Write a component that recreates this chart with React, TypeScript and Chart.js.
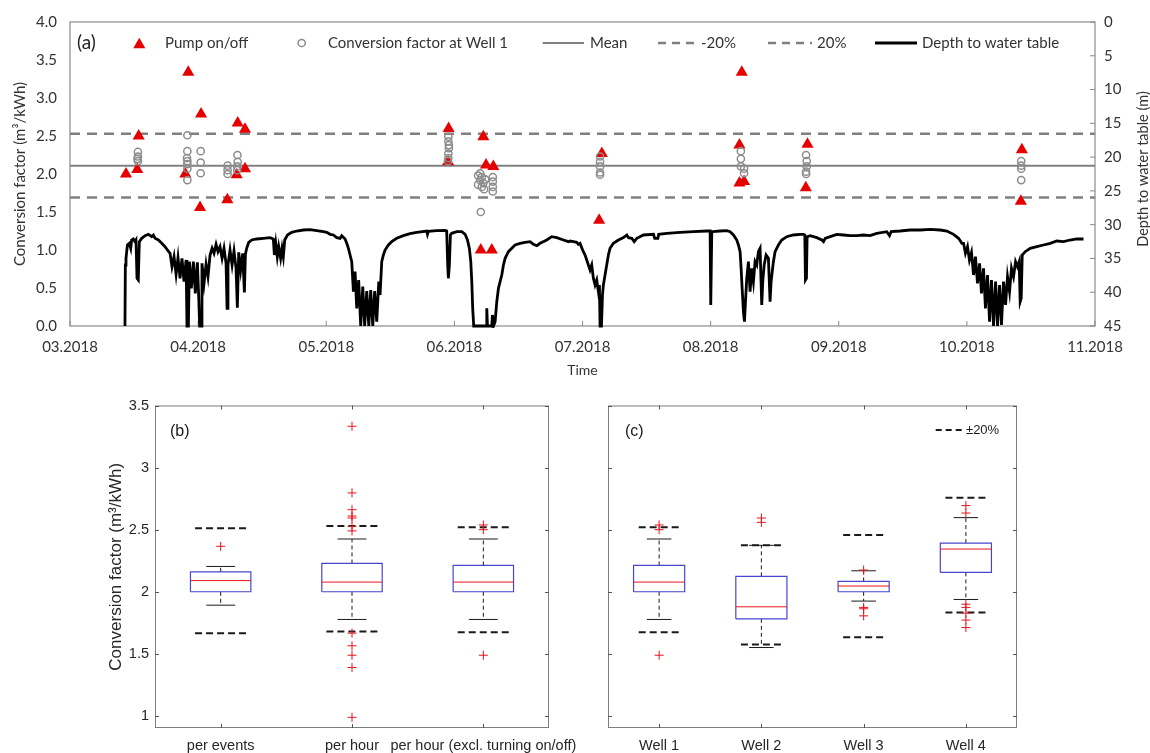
import React, { useEffect, useRef } from 'react';
import { Chart, registerables } from 'chart.js';

Chart.register(...registerables);

// ---------------- (a) time series ----------------
const monthLabels = ['03.2018', '04.2018', '05.2018', '06.2018', '07.2018', '08.2018', '09.2018', '10.2018', '11.2018'];
const factorTicks = [0, 0.5, 1, 1.5, 2, 2.5, 3, 3.5, 4];
const depthTicks = [0, 5, 10, 15, 20, 25, 30, 35, 40, 45];
const meanFactor = 2.11;
const lowerBand = 1.69;
const upperBand = 2.53;
const legendLabels = ['Pump on/off', 'Conversion factor at Well 1', 'Mean', '-20%', '20%', 'Depth to water table'];
const depthAxisTitle = 'Depth to water table (m)';

// [month index since 03.2018, conversion factor]
const pumpOnOff: [number, number][] = [
  [0.437, 2.0], [0.525, 2.06], [0.536, 2.5],
  [0.9, 2.0], [0.923, 3.34], [1.015, 1.56], [1.023, 2.79],
  [1.228, 1.66], [1.301, 1.99], [1.309, 2.67], [1.366, 2.59], [1.366, 2.07],
  [2.951, 2.16], [2.955, 2.6],
  [3.206, 1.0], [3.226, 2.49], [3.247, 2.12], [3.292, 1.0], [3.304, 2.1],
  [4.13, 1.39], [4.151, 2.27],
  [5.225, 2.38], [5.225, 1.88], [5.243, 3.34], [5.261, 1.9],
  [5.743, 1.82], [5.756, 2.39],
  [7.421, 1.64], [7.429, 2.32],
];

const wellOneFactor: [number, number][] = [
  [0.53, 2.29], [0.53, 2.23], [0.527, 2.2], [0.53, 2.17],
  [0.916, 2.51], [0.916, 2.3], [0.913, 2.21], [0.916, 2.17], [0.916, 2.13], [0.916, 2.07], [0.916, 1.92],
  [1.02, 2.3], [1.02, 2.15], [1.02, 2.01],
  [1.23, 2.11], [1.23, 2.05], [1.23, 2.0],
  [1.307, 2.25], [1.309, 2.16], [1.305, 2.1], [1.305, 2.05],
  [2.953, 2.49], [2.953, 2.43], [2.957, 2.38], [2.957, 2.34], [2.953, 2.27], [2.953, 2.21], [2.95, 2.17],
  [3.185, 1.98], [3.201, 2.01], [3.214, 1.96], [3.201, 1.92], [3.24, 1.93], [3.226, 1.88], [3.185, 1.86], [3.214, 1.83], [3.232, 1.8], [3.206, 1.5],
  [3.3, 1.96], [3.3, 1.9], [3.3, 1.83], [3.3, 1.77],
  [4.137, 2.23], [4.137, 2.16], [4.137, 2.1], [4.137, 2.02], [4.137, 1.99],
  [5.236, 2.3], [5.236, 2.2], [5.236, 2.1], [5.261, 2.07], [5.261, 2.01],
  [5.745, 2.25], [5.75, 2.17], [5.75, 2.1], [5.745, 2.03], [5.745, 2.0],
  [7.424, 2.17], [7.424, 2.11], [7.424, 2.07], [7.424, 1.92],
];

// [month index since 03.2018, depth to water table (m)]
const depthToWaterTable: [number, number][] = [
  [0.429, 45.0], [0.432, 35.97], [0.437, 34.98], [0.448, 33.01], [0.463, 32.76], [0.474, 33.5], [0.481, 32.27], [0.494, 32.12],
  [0.507, 32.52], [0.515, 32.27], [0.523, 37.94], [0.533, 38.19], [0.541, 32.52], [0.56, 32.02], [0.586, 31.63], [0.612, 31.43],
  [0.638, 31.78], [0.651, 31.53], [0.664, 32.02], [0.69, 32.27], [0.716, 32.76], [0.742, 33.26], [0.76, 33.75], [0.781, 34.24],
  [0.796, 36.22], [0.812, 34.74], [0.828, 37.35], [0.843, 34.89], [0.859, 37.94], [0.874, 34.98], [0.89, 38.44], [0.906, 35.23],
  [0.913, 45], [0.924, 45], [0.932, 35.48], [0.947, 39.42], [0.963, 35.48], [0.978, 40.17], [0.994, 35.58], [1.004, 40.41],
  [1.012, 45], [1.023, 45], [1.03, 35.72], [1.046, 38.68], [1.062, 35.87], [1.077, 37.7], [1.093, 34.49], [1.109, 33.5],
  [1.124, 34.24], [1.14, 32.91], [1.155, 34.0], [1.171, 33.26], [1.187, 34.98], [1.202, 33.5], [1.218, 35.72], [1.226, 42.39],
  [1.233, 35.97], [1.249, 33.75], [1.265, 35.97], [1.28, 33.9], [1.296, 36.46], [1.306, 42.29], [1.317, 34.1], [1.332, 36.71],
  [1.348, 34.24], [1.361, 40.02], [1.369, 34.39], [1.379, 33.5], [1.395, 32.62], [1.418, 32.27], [1.457, 32.12], [1.509, 32.02],
  [1.561, 31.92], [1.587, 32.12], [1.595, 34.49], [1.606, 32.76], [1.618, 34.74], [1.629, 33.26], [1.644, 34.98], [1.655, 33.5],
  [1.665, 34.74], [1.676, 32.27], [1.697, 31.53], [1.73, 31.14], [1.769, 30.94], [1.821, 30.79], [1.874, 30.74], [1.926, 30.89],
  [1.977, 31.04], [2.004, 31.14], [2.03, 31.43], [2.056, 31.53], [2.082, 31.92], [2.108, 32.02],
  [2.121, 31.63], [2.147, 32.12], [2.16, 32.76], [2.173, 33.5], [2.186, 34.49], [2.199, 35.48], [2.212, 39.92], [2.225, 36.96],
  [2.238, 42.39], [2.253, 38.19], [2.269, 45], [2.285, 39.18], [2.3, 45], [2.316, 39.82], [2.332, 45], [2.347, 39.67],
  [2.363, 45], [2.378, 39.82], [2.394, 44.36], [2.41, 38.44], [2.42, 40.41], [2.433, 35.48], [2.446, 34.49], [2.459, 33.75],
  [2.485, 33.01], [2.511, 32.52], [2.55, 32.02], [2.602, 31.63], [2.654, 31.33], [2.706, 31.14], [2.784, 30.94], [2.79, 31.43],
  [2.797, 30.99], [2.862, 30.89], [2.927, 30.84], [2.94, 30.94], [2.948, 35.97], [2.953, 37.94], [2.961, 35.97], [2.969, 31.53],
  [2.979, 31.28], [3.019, 31.04], [3.058, 31.04], [3.084, 31.43], [3.102, 32.27], [3.117, 33.5], [3.128, 35.48], [3.136, 38.44],
  [3.143, 42.39], [3.151, 45], [3.247, 45], [3.253, 42.39], [3.258, 45], [3.292, 45], [3.297, 43.37], [3.305, 45],
  [3.318, 44.36], [3.331, 41.4], [3.344, 39.42], [3.357, 38.44], [3.37, 37.45], [3.383, 35.97], [3.396, 34.98], [3.422, 34.0],
  [3.448, 33.5], [3.474, 33.01], [3.513, 32.76], [3.552, 32.62], [3.591, 32.52], [3.617, 32.91], [3.643, 33.11], [3.669, 32.76],
  [3.721, 32.27], [3.76, 31.78], [3.799, 31.92], [3.851, 32.27], [3.89, 32.52],
  [3.903, 32.42], [3.929, 32.52], [3.955, 32.62], [3.968, 32.91], [3.981, 32.76], [3.994, 33.41], [4.007, 34.0], [4.02, 34.49],
  [4.033, 35.23], [4.046, 35.97], [4.059, 36.71], [4.072, 35.97], [4.085, 37.94], [4.098, 38.93], [4.111, 38.19], [4.124, 39.92],
  [4.132, 38.93], [4.137, 45], [4.148, 45], [4.156, 40.41], [4.163, 38.93], [4.176, 37.45], [4.189, 35.97], [4.202, 34.49],
  [4.215, 33.5], [4.241, 32.76], [4.28, 32.27], [4.32, 31.92], [4.346, 31.53], [4.359, 31.92], [4.385, 32.02], [4.403, 32.52],
  [4.424, 32.02], [4.476, 31.53], [4.554, 31.43], [4.564, 32.02], [4.588, 32.02], [4.595, 31.43], [4.658, 31.28], [4.762, 31.14],
  [4.866, 31.04], [4.97, 30.94], [4.996, 30.94], [5.001, 41.89], [5.009, 31.04], [5.074, 30.94], [5.126, 30.89], [5.152, 31.04],
  [5.178, 31.53], [5.204, 32.27], [5.217, 33.01], [5.23, 34.0], [5.238, 36.46], [5.246, 39.42], [5.256, 42.88], [5.264, 44.36],
  [5.272, 41.4], [5.282, 37.94], [5.295, 35.48], [5.308, 39.92], [5.321, 36.46], [5.334, 38.44], [5.347, 35.48], [5.36, 35.97],
  [5.373, 34.0], [5.386, 33.5], [5.399, 41.89], [5.407, 38.44], [5.418, 35.97], [5.433, 34.49], [5.451, 34.98], [5.464, 41.4],
  [5.472, 38.44], [5.49, 35.48], [5.503, 34.0], [5.529, 33.01], [5.555, 32.27], [5.594, 31.78], [5.646, 31.53], [5.699, 31.43],
  [5.725, 31.43], [5.735, 31.53], [5.74, 38.19], [5.748, 37.94], [5.753, 31.78], [5.777, 31.63], [5.829, 31.92], [5.868, 32.27],
  [5.881, 32.52], [5.894, 32.02], [5.933, 31.78], [5.985, 31.43], [6.037, 31.53], [6.089, 31.63], [6.141, 31.63], [6.193, 31.53],
  [6.245, 31.63], [6.297, 31.28], [6.375, 31.04], [6.396, 31.63], [6.409, 31.04], [6.479, 30.94], [6.557, 30.79], [6.636, 30.79],
  [6.714, 30.69], [6.792, 30.79], [6.844, 30.94], [6.896, 31.43], [6.935, 32.02], [6.961, 32.76], [6.974, 32.76], [6.989, 34.24],
  [7.005, 33.26], [7.02, 35.23], [7.036, 34.1], [7.052, 37.45], [7.067, 34.74], [7.083, 38.68], [7.099, 35.72], [7.114, 40.17],
  [7.13, 36.46], [7.145, 42.39], [7.161, 37.45], [7.177, 44.36], [7.192, 38.19], [7.208, 45], [7.224, 38.44], [7.239, 45],
  [7.255, 38.93], [7.27, 44.85], [7.286, 38.44], [7.302, 41.89], [7.317, 37.7], [7.333, 39.92], [7.348, 36.46], [7.364, 37.7],
  [7.38, 35.48], [7.395, 36.22], [7.408, 35.48], [7.416, 41.4], [7.424, 40.9], [7.432, 34.49], [7.455, 34.0], [7.494, 33.5],
  [7.546, 33.26], [7.598, 33.01], [7.65, 32.76], [7.702, 32.42], [7.754, 32.52], [7.806, 32.27], [7.858, 32.12], [7.91, 32.12],
];

// ---------------- (b) box plots ----------------
const eventCategories = ['per events', 'per hour', 'per hour (excl. turning on/off)'];
const eventQ1 = [2.0, 2.0, 2.0];
const eventMedian = [2.09, 2.078, 2.078];
const eventQ3 = [2.161, 2.228, 2.212];
const eventWhiskerLow = [1.892, 1.777, 1.777];
const eventWhiskerHigh = [2.204, 2.425, 2.425];
const eventMinus20 = [1.667, 1.68, 1.675];
const eventPlus20 = [2.511, 2.53, 2.52];
const eventOutliers = [
  [2.366],
  [3.333, 2.796, 2.661, 2.61, 2.594, 2.527, 2.49, 1.667, 1.565, 1.489, 1.39, 0.989],
  [2.538, 2.5, 1.489],
];

// ---------------- (c) box plots ----------------
const wellCategories = ['Well 1', 'Well 2', 'Well 3', 'Well 4'];
const wellQ1 = [2.0, 1.782, 2.0, 2.156];
const wellMedian = [2.078, 1.879, 2.046, 2.344];
const wellQ3 = [2.212, 2.124, 2.083, 2.392];
const wellWhiskerLow = [1.777, 1.551, 1.925, 1.938];
const wellWhiskerHigh = [2.425, 2.374, 2.169, 2.597];
const wellMinus20 = [1.675, 1.575, 1.634, 1.833];
const wellPlus20 = [2.52, 2.374, 2.457, 2.758];
const wellOutliers = [
  [2.538, 2.5, 1.489],
  [2.594, 2.559],
  [2.175, 1.874, 1.863, 1.806],
  [2.694, 2.634, 1.9, 1.874, 1.828, 1.772, 1.712],
];
const boxTicks = [1, 1.5, 2, 2.5, 3, 3.5];
const boxMin = 0.903;
const boxMax = 3.5;

const LATO = "Lato, 'Open Sans', sans-serif";
const ARIAL = "'Liberation Sans', Arial, sans-serif";

function line(ctx: CanvasRenderingContext2D, x1: number, y1: number, x2: number, y2: number) {
  ctx.beginPath();
  ctx.moveTo(x1, y1);
  ctx.lineTo(x2, y2);
  ctx.stroke();
}

const topDecor = {
  id: 'topDecor',
  beforeDatasetsDraw(chart: any) {
    const { ctx, chartArea: a, scales } = chart;
    ctx.save();
    ctx.strokeStyle = '#8a8a8a';
    ctx.lineWidth = 1.2;
    ctx.strokeRect(a.left, a.top, a.right - a.left, a.bottom - a.top);
    ctx.lineWidth = 1;
    monthLabels.forEach((_, i) => {
      const x = scales.x.getPixelForValue(i);
      line(ctx, x, a.bottom, x, a.bottom - 5);
    });
    depthTicks.forEach((v) => {
      const y = scales.y1.getPixelForValue(v);
      line(ctx, a.right, y, a.right - 5, y);
    });
    ctx.restore();
  },
  afterDraw(chart: any) {
    const { ctx, chartArea: a } = chart;
    const y = 43;
    ctx.save();
    // right axis title, reading bottom-to-top
    ctx.save();
    ctx.translate(1143, (a.top + a.bottom) / 2 - 5);
    ctx.rotate(-Math.PI / 2);
    ctx.fillStyle = '#333';
    ctx.textAlign = 'center';
    ctx.textBaseline = 'middle';
    ctx.font = `14.5px ${LATO}`;
    ctx.fillText(depthAxisTitle, 0, 0);
    ctx.restore();

    ctx.fillStyle = '#222';
    ctx.textBaseline = 'middle';
    ctx.textAlign = 'left';
    ctx.font = `19px ${LATO}`;
    ctx.fillText('(a)', 77, y);
    ctx.font = `15px ${LATO}`;
    // triangle
    const r = 7;
    const cy = y + 1.8;
    ctx.fillStyle = '#e60000';
    ctx.beginPath();
    ctx.moveTo(139.3, cy - r);
    ctx.lineTo(139.3 + r * 0.866, cy + r / 2);
    ctx.lineTo(139.3 - r * 0.866, cy + r / 2);
    ctx.closePath();
    ctx.fill();
    ctx.fillStyle = '#333';
    ctx.fillText(legendLabels[0], 165, y);
    // circle
    ctx.strokeStyle = '#8c8c8c';
    ctx.lineWidth = 1.5;
    ctx.beginPath();
    ctx.arc(301.7, y, 3.6, 0, Math.PI * 2);
    ctx.stroke();
    ctx.fillText(legendLabels[1], 328, y);
    // mean
    ctx.strokeStyle = '#808080';
    ctx.lineWidth = 2;
    line(ctx, 542.7, y, 584, y);
    ctx.fillText(legendLabels[2], 590, y);
    // dashed
    ctx.lineWidth = 2.5;
    ctx.setLineDash([8, 6]);
    line(ctx, 658, y, 700, y);
    ctx.fillText(legendLabels[3], 701, y);
    line(ctx, 768, y, 812, y);
    ctx.fillText(legendLabels[4], 817, y);
    ctx.setLineDash([]);
    ctx.strokeStyle = '#000';
    ctx.lineWidth = 3;
    line(ctx, 875, y, 917, y);
    ctx.fillText(legendLabels[5], 922, y);
    ctx.restore();
  },
};

function TopChart() {
  const ref = useRef<HTMLCanvasElement>(null);
  useEffect(() => {
    const tickFont = { family: LATO, size: 15 };
    const noGrid = { display: false, drawTicks: false };
    const chart = new Chart(ref.current as HTMLCanvasElement, {
      type: 'line',
      data: {
        datasets: [
          {
            label: legendLabels[1], data: wellOneFactor, showLine: false, yAxisID: 'y',
            pointStyle: 'circle', pointRadius: 3.6, borderColor: '#8c8c8c', backgroundColor: 'rgba(255,255,255,0)',
            pointBorderWidth: 1.5, order: 0,
          },
          {
            label: legendLabels[0], data: pumpOnOff, showLine: false, yAxisID: 'y',
            pointStyle: 'triangle', pointRadius: 7, backgroundColor: '#e60000', borderColor: '#e60000',
            pointBorderWidth: 0, order: 1,
          },
          {
            label: legendLabels[2], data: [[0, meanFactor], [8, meanFactor]], yAxisID: 'y',
            borderColor: '#808080', borderWidth: 2, pointRadius: 0, order: 2,
          },
          {
            label: legendLabels[3], data: [[0, lowerBand], [8, lowerBand]], yAxisID: 'y',
            borderColor: '#808080', borderWidth: 2.5, borderDash: [10, 7], pointRadius: 0, order: 2,
          },
          {
            label: legendLabels[4], data: [[0, upperBand], [8, upperBand]], yAxisID: 'y',
            borderColor: '#808080', borderWidth: 2.5, borderDash: [10, 7], pointRadius: 0, order: 2,
          },
          {
            label: legendLabels[5], data: depthToWaterTable, yAxisID: 'y1',
            borderColor: '#000', borderWidth: 2.8, pointRadius: 0, tension: 0, order: 3,
            clip: { left: 0, top: 0, right: 0, bottom: 2 },
          },
        ],
      },
      options: {
        responsive: false,
        animation: false,
        devicePixelRatio: 1,
        events: [],
        layout: { padding: { top: 22, left: 0, right: 0, bottom: 0 } },
        plugins: { legend: { display: false }, tooltip: { enabled: false } },
        scales: {
          x: {
            type: 'linear', min: 0, max: 8,
            afterBuildTicks: (s: any) => { s.ticks = monthLabels.map((_, i) => ({ value: i })); },
            afterFit: (s: any) => { s.height = 59; },
            ticks: { callback: (v: any) => monthLabels[v], padding: 12, font: tickFont, color: '#333', maxRotation: 0, autoSkip: false },
            grid: noGrid, border: { display: false },
            title: { display: true, text: 'Time', color: '#333', font: { family: LATO, size: 14 }, padding: { top: 0, bottom: 6.6 } },
          },
          y: {
            type: 'linear', position: 'left', min: 0, max: 4,
            afterBuildTicks: (s: any) => { s.ticks = factorTicks.map((v) => ({ value: v })); },
            afterFit: (s: any) => { s.width = 70; },
            ticks: { callback: (v: any) => Number(v).toFixed(1), padding: 13, font: tickFont, color: '#333' },
            grid: noGrid, border: { display: false },
            title: { display: true, text: 'Conversion factor (m³/kWh)', color: '#333', font: { family: LATO, size: 15 }, padding: { top: 11, bottom: 0 } },
          },
          y1: {
            type: 'linear', position: 'right', min: 0, max: 45, reverse: true,
            afterBuildTicks: (s: any) => { s.ticks = depthTicks.map((v) => ({ value: v })); },
            afterFit: (s: any) => { s.width = 55; },
            ticks: { padding: 9, font: tickFont, color: '#333' },
            grid: noGrid, border: { display: false },
          },
        },
      },
      plugins: [topDecor],
    } as any);
    return () => chart.destroy();
  }, []);
  return (
    <canvas ref={ref} width={1150} height={385} style={{ position: 'absolute', left: 0, top: 0, width: 1150, height: 385 }} />
  );
}

type BoxProps = {
  categories: string[];
  q1: number[]; median: number[]; q3: number[];
  whiskerLow: number[]; whiskerHigh: number[];
  minus20: number[]; plus20: number[];
  outliers: number[][];
  left: number; width: number;
  padLeft: number; padRight: number;
  showY: boolean;
  panel: string; panelOffset: number;
  boxHalf: number; capHalf: number; bandHalf: number;
  bandLegend: boolean;
};

function BoxChart(p: BoxProps) {
  const ref = useRef<HTMLCanvasElement>(null);
  useEffect(() => {
    const gap = (i: number) => ({ x: i, y: null as any });
    const box: any[] = [];
    const med: any[] = [];
    const whisk: any[] = [];
    const caps: any[] = [];
    const band: any[] = [];
    const outs: any[] = [];
    p.categories.forEach((_, i) => {
      const b = p.boxHalf, c = p.capHalf, d = p.bandHalf;
      box.push({ x: i - b, y: p.q1[i] }, { x: i + b, y: p.q1[i] }, { x: i + b, y: p.q3[i] }, { x: i - b, y: p.q3[i] }, { x: i - b, y: p.q1[i] }, gap(i));
      med.push({ x: i - b, y: p.median[i] }, { x: i + b, y: p.median[i] }, gap(i));
      whisk.push({ x: i, y: p.q3[i] }, { x: i, y: p.whiskerHigh[i] }, gap(i), { x: i, y: p.q1[i] }, { x: i, y: p.whiskerLow[i] }, gap(i));
      caps.push({ x: i - c, y: p.whiskerHigh[i] }, { x: i + c, y: p.whiskerHigh[i] }, gap(i), { x: i - c, y: p.whiskerLow[i] }, { x: i + c, y: p.whiskerLow[i] }, gap(i));
      band.push({ x: i - d, y: p.plus20[i] }, { x: i + d, y: p.plus20[i] }, gap(i), { x: i - d, y: p.minus20[i] }, { x: i + d, y: p.minus20[i] }, gap(i));
      p.outliers[i].forEach((v) => outs.push({ x: i, y: v }));
    });
    const lineDs = (label: string, data: any[], color: string, width: number, dash: number[], order: number) => ({
      label, data, borderColor: color, borderWidth: width, borderDash: dash, pointRadius: 0,
      spanGaps: false, tension: 0, fill: false, order,
    });
    const tickFont = { family: ARIAL, size: 14.5 };
    const noGrid = { display: false, drawTicks: false };
    const n = p.categories.length;
    const decor = {
      id: 'boxDecor',
      afterDraw(chart: any) {
        const { ctx, chartArea: a, scales } = chart;
        ctx.save();
        ctx.strokeStyle = '#7d7d7d';
        ctx.lineWidth = 1;
        ctx.strokeRect(a.left + 0.5, a.top + 0.5, a.right - a.left - 1, a.bottom - a.top - 1);
        ctx.strokeStyle = '#555';
        p.categories.forEach((_, i) => {
          const x = Math.round(scales.x.getPixelForValue(i)) + 0.5;
          line(ctx, x, a.top, x, a.top + 4);
          line(ctx, x, a.bottom, x, a.bottom - 4);
        });
        boxTicks.forEach((v) => {
          const y = Math.round(scales.y.getPixelForValue(v)) + 0.5;
          line(ctx, a.left, y, a.left + 4, y);
          line(ctx, a.right, y, a.right - 4, y);
        });
        ctx.fillStyle = '#1a1a1a';
        ctx.textBaseline = 'middle';
        ctx.textAlign = 'left';
        ctx.font = `16px ${ARIAL}`;
        ctx.fillText(p.panel, a.left + p.panelOffset, a.top + 26);
        if (p.bandLegend) {
          ctx.strokeStyle = '#1a1a1a';
          ctx.lineWidth = 2;
          ctx.setLineDash([6, 4]);
          line(ctx, a.left + 327.7, a.top + 24.5, a.left + 356, a.top + 24.5);
          ctx.setLineDash([]);
          ctx.font = `13px ${ARIAL}`;
          ctx.fillText('±20%', a.left + 358, a.top + 25);
        }
        ctx.restore();
      },
    };
    const chart = new Chart(ref.current as HTMLCanvasElement, {
      type: 'line',
      data: {
        datasets: [
          { label: 'outliers', data: outs, showLine: false, pointStyle: 'cross', pointRadius: 4.5, pointBorderWidth: 1, borderColor: '#e8141c', backgroundColor: '#e8141c', order: 0 },
          lineDs('median', med, '#e8141c', 1, [], 1),
          lineDs('box', box, '#4646cf', 1.2, [], 2),
          lineDs('whisker', whisk, '#1a1a1a', 1, [4, 3], 3),
          lineDs('cap', caps, '#1a1a1a', 1, [], 3),
          lineDs('±20%', band, '#1a1a1a', 2, [7, 4], 4),
        ],
      },
      options: {
        responsive: false,
        animation: false,
        devicePixelRatio: 1,
        events: [],
        layout: { padding: { top: 20.5, left: p.padLeft, right: p.padRight, bottom: 0 } },
        plugins: { legend: { display: false }, tooltip: { enabled: false } },
        scales: {
          x: {
            type: 'linear', min: -0.5, max: n - 0.5,
            afterBuildTicks: (s: any) => { s.ticks = p.categories.map((_, i) => ({ value: i })); },
            afterFit: (s: any) => { s.height = 25; },
            ticks: { callback: (v: any) => p.categories[v], padding: 9, font: tickFont, color: '#262626', maxRotation: 0, autoSkip: false },
            grid: noGrid, border: { display: false },
          },
          y: {
            type: 'linear', min: boxMin, max: boxMax, display: p.showY,
            afterBuildTicks: (s: any) => { s.ticks = boxTicks.map((v) => ({ value: v })); },
            afterFit: (s: any) => { if (p.showY) s.width = 95; },
            ticks: { callback: (v: any) => String(v), padding: 6, font: tickFont, color: '#262626' },
            grid: noGrid, border: { display: false },
            title: { display: true, text: 'Conversion factor (m³/kWh)', color: '#262626', font: { family: ARIAL, size: 17 }, padding: { top: 45.8, bottom: 0 } },
          },
        },
      },
      plugins: [decor],
    } as any);
    return () => chart.destroy();
  }, []);
  return (
    <canvas ref={ref} width={p.width} height={368} style={{ position: 'absolute', left: p.left, top: 385, width: p.width, height: 368 }} />
  );
}

export default function App() {
  return (
    <div style={{ position: 'absolute', left: 0, top: 0, width: 1150, height: 753, background: '#fff', overflow: 'hidden' }}>
      <TopChart />
      <BoxChart
        categories={eventCategories} q1={eventQ1} median={eventMedian} q3={eventQ3}
        whiskerLow={eventWhiskerLow} whiskerHigh={eventWhiskerHigh} minus20={eventMinus20} plus20={eventPlus20}
        outliers={eventOutliers} left={60} width={540} padLeft={0} padRight={51} showY={true}
        panel="(b)" panelOffset={15} boxHalf={0.23} capHalf={0.11} bandHalf={0.195} bandLegend={false}
      />
      <BoxChart
        categories={wellCategories} q1={wellQ1} median={wellMedian} q3={wellQ3}
        whiskerLow={wellWhiskerLow} whiskerHigh={wellWhiskerHigh} minus20={wellMinus20} plus20={wellPlus20}
        outliers={wellOutliers} left={600} width={510} padLeft={8} padRight={93} showY={false}
        panel="(c)" panelOffset={17} boxHalf={0.25} capHalf={0.12} bandHalf={0.2} bandLegend={true}
      />
    </div>
  );
}
